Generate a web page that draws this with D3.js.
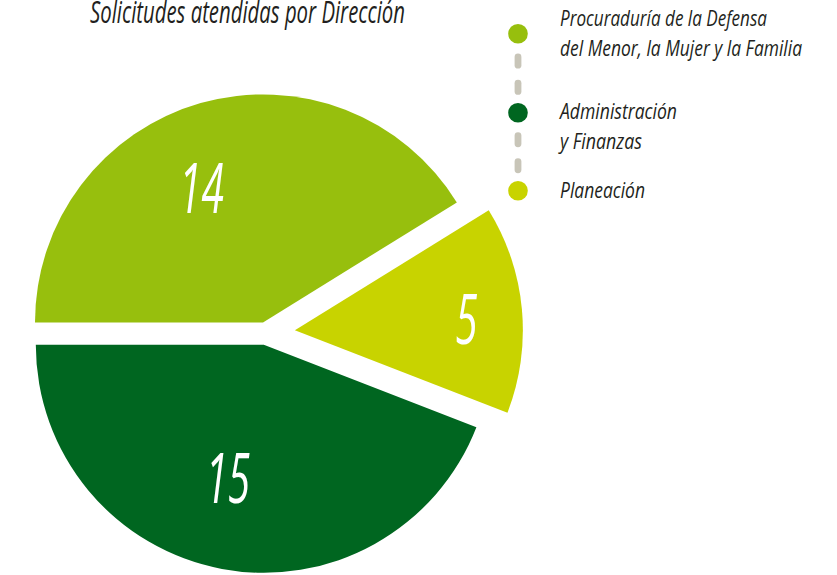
<!DOCTYPE html>
<html>
<head>
<meta charset="utf-8">
<script src="https://cdn.jsdelivr.net/npm/d3@7/dist/d3.min.js"></script>
<style>
  html, body { margin: 0; padding: 0; background: #ffffff; }
  svg { display: block; }
  text { font-family: "Open Sans", "Noto Sans", "DejaVu Sans", sans-serif; font-style: italic; }
</style>
</head>
<body>
<svg id="chart" width="837" height="575"></svg>
<script>
// ---------------- data ----------------
const title = "Solicitudes atendidas por Dirección";
const categories = [
  "Procuraduría de la Defensa del Menor, la Mujer y la Familia",
  "Administración y Finanzas",
  "Planeación"
];
const legendLines = [
  ["Procuraduría de la Defensa", "del Menor, la Mujer y la Familia"],
  ["Administración", "y Finanzas"],
  ["Planeación"]
];
const values = [14, 15, 5];
const colors = ["#97bf0d", "#006620", "#c8d300"];
// order of slices clockwise starting at 9 o'clock
const pieOrder = [0, 2, 1];

// ---------------- layout ----------------
const W = 837, H = 575;
const center = { x: 266, y: 333 };
const radius = 228;
const explode = [11, 12, 29];                 // per category, along slice bisector
const labelPos = [                            // per category: angle shift (deg), radius
  { shift: -8.7, r: 148 },
  { shift: 4.5, r: 138 },
  { shift: 1.3, r: 172 }
];
const labelFont = 70, labelCondense = 0.58;

const legendX = 518, legendTextX = 560, legendR = 9.8;
const legendCircleY = [33.7, 112.7, 190.8];
const legendTextY = [26, 119.3, 198.3];
const legendLineGap = 29.5;
const legendLineWidths = [[207, 242], [117, 82], [85]];
const legendFont = 22.5;

const svg = d3.select("#chart");

// ---------------- pie ----------------
const pieData = pieOrder.map(i => ({ idx: i, name: categories[i], value: values[i] }));
const pie = d3.pie().value(d => d.value).sort(null)
  .startAngle(-Math.PI / 2).endAngle(3 * Math.PI / 2);
const arcs = pie(pieData);
const arc = d3.arc().innerRadius(0).outerRadius(radius);

const g = svg.append("g").attr("transform", `translate(${center.x},${center.y})`);

const slices = g.selectAll("g.slice").data(arcs).join("g")
  .attr("class", "slice")
  .attr("transform", d => {
    const mid = (d.startAngle + d.endAngle) / 2;
    const e = explode[d.data.idx];
    return `translate(${e * Math.sin(mid)},${-e * Math.cos(mid)})`;
  });

slices.append("path")
  .attr("d", arc)
  .attr("fill", d => colors[d.data.idx]);

slices.append("text")
  .attr("transform", d => {
    const lp = labelPos[d.data.idx];
    const a = (d.startAngle + d.endAngle) / 2 + lp.shift * Math.PI / 180;
    const x = lp.r * Math.sin(a), y = -lp.r * Math.cos(a) + labelFont * 0.36;
    return `translate(${x},${y}) scale(${labelCondense},1)`;
  })
  .attr("text-anchor", "middle")
  .attr("font-size", labelFont)
  .attr("font-weight", 400)
  .attr("fill", "#ffffff")
  .text(d => d.value);

// ---------------- title ----------------
svg.append("text")
  .attr("x", 90).attr("y", 22.5)
  .attr("font-size", 31)
  .attr("fill", "#231f20")
  .attr("textLength", 315)
  .attr("lengthAdjust", "spacingAndGlyphs")
  .text(title);

// ---------------- legend ----------------
const lg = svg.append("g");
// dashed connectors
const dashes = [];
for (let i = 0; i < categories.length - 1; i++) {
  const y0 = legendCircleY[i], y1 = legendCircleY[i + 1];
  [1 / 3, 2 / 3].forEach(f => dashes.push(y0 + (y1 - y0) * f + 1));
}
lg.selectAll("rect.dash").data(dashes).join("rect")
  .attr("class", "dash")
  .attr("x", legendX - 3.4).attr("y", d => d - 7.5)
  .attr("width", 6.8).attr("height", 15)
  .attr("rx", 3.4).attr("ry", 3.4)
  .attr("fill", "#c8c5b8");

lg.selectAll("circle").data(categories).join("circle")
  .attr("cx", legendX).attr("cy", (d, i) => legendCircleY[i])
  .attr("r", legendR)
  .attr("fill", (d, i) => colors[i]);

categories.forEach((c, i) => {
  legendLines[i].forEach((line, j) => {
    lg.append("text")
      .attr("x", legendTextX)
      .attr("y", legendTextY[i] + j * legendLineGap)
      .attr("font-size", legendFont)
      .attr("fill", "#231f20")
      .attr("textLength", legendLineWidths[i][j])
      .attr("lengthAdjust", "spacingAndGlyphs")
      .text(line);
  });
});
</script>
</body>
</html>
